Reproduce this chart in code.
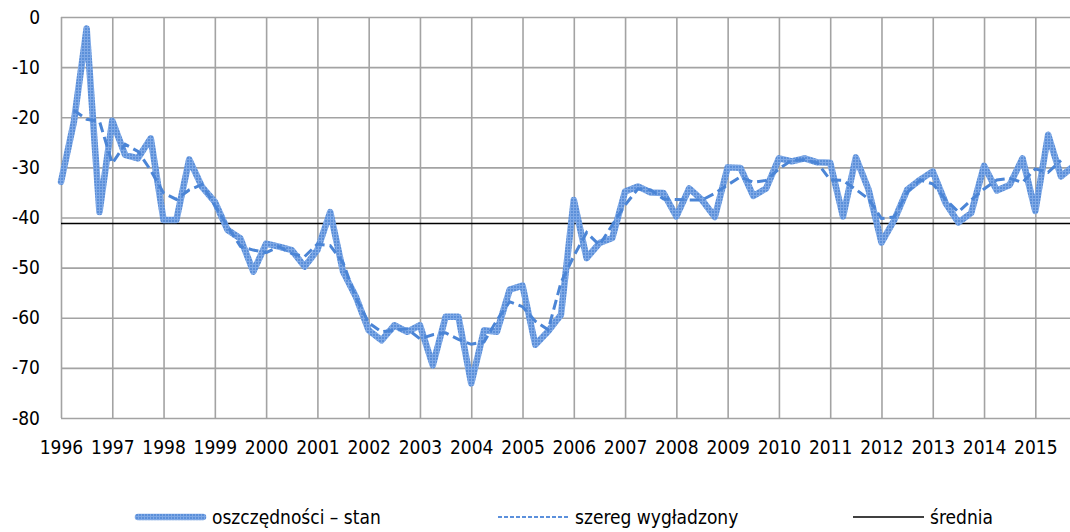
<!DOCTYPE html>
<html>
<head>
<meta charset="utf-8">
<script src="https://cdn.jsdelivr.net/npm/d3@7"></script>
<style>
  html, body { margin: 0; padding: 0; background: #fff; }
  #svg-container { width: 1070px; height: 532px; }
  svg { display: block; }
  .tick text, .legend-texts {
    font-family: "DejaVu Sans Condensed", "DejaVu Sans", sans-serif;
    font-size: 19px;
    fill: #000;
  }
  .grid .tick line { stroke: #a3a3a3; stroke-width: 1.6; }
  .grid .domain { display: none; }
</style>
</head>
<body>
<div id="svg-container"></div>
<script>
// data: quarterly, 1996Q1 .. 2015Q4
const years = d3.range(1996, 2016);
const quarters = years.flatMap((y) => [1, 2, 3, 4].map((q) => `${y}Q${q}`));

const savings = [
  -32.9, -21.0, -2.3, -38.9,
  -20.7, -27.5, -28.2, -24.2,
  -40.5, -40.5, -28.4, -33.9,
  -36.9, -42.5, -44.2, -50.8,
  -45.2, -45.8, -46.5, -49.8,
  -46.5, -38.9, -50.8, -55.8,
  -62.5, -64.5, -61.5, -62.8,
  -61.5, -69.5, -59.8, -59.8,
  -73.1, -62.5, -62.8, -54.4,
  -53.6, -65.4, -62.7, -59.4,
  -36.5, -48.1, -45.1, -44.1,
  -34.8, -33.8, -35.0, -35.1,
  -39.8, -34.2, -36.5, -39.9,
  -30.0, -30.1, -35.7, -34.2,
  -28.2, -28.8, -28.2, -29.0,
  -29.1, -39.8, -28.0, -34.5,
  -45.0, -40.5, -34.5, -32.5,
  -30.8, -37.1, -41.0, -39.1,
  -29.7, -34.6, -33.5, -28.2,
  -38.7, -23.5, -31.8, -29.7,
];

const smoothed = [
  null, -18.6, -20.4, -20.8,
  -29.2, -25.4, -26.8, -30.6,
  -35.1, -36.4, -34.5, -33.4,
  -37.6, -41.8, -45.8, -46.5,
  -47.0, -45.8, -47.2, -47.8,
  -45.3, -45.6, -49.0, -56.0,
  -61.0, -62.8, -62.5, -62.2,
  -64.2, -63.4, -63.0, -64.3,
  -65.3, -64.8, -60.5, -56.8,
  -57.8, -60.7, -62.4, -53.0,
  -47.7, -43.0, -45.5, -41.5,
  -37.5, -34.3, -34.5, -36.3,
  -36.4, -36.5, -36.5, -35.2,
  -33.5, -31.9, -33.0, -32.6,
  -30.3, -28.6, -28.5, -29.1,
  -32.5, -32.6, -34.4, -36.3,
  -40.2, -39.9, -35.0, -32.5,
  -33.3, -36.4, -38.9, -36.5,
  -34.3, -32.5, -32.2, -33.0,
  -30.3, -31.0, -28.6, null,
];

const meanValue = -41.2;

const yTicks = [0, -10, -20, -30, -40, -50, -60, -70, -80];
const legendLabels = ["oszczędności – stan", "szereg wygładzony", "średnia"];

////////////////////////////////////////////////////////////////////
////////////////////////////  Init  ///////////////////////////////
const width = 1070;
const height = 532;
const margin = { top: 17, right: 0, bottom: 114, left: 61 };

const svg = d3
  .select("#svg-container")
  .append("svg")
  .attr("width", width)
  .attr("height", height);

// texture of the thick line
const defs = svg.append("defs");
const pat = defs
  .append("pattern")
  .attr("id", "hatch")
  .attr("patternUnits", "userSpaceOnUse")
  .attr("width", 3)
  .attr("height", 3);
pat.append("rect").attr("width", 3).attr("height", 3).attr("fill", "#5b8fd9");
pat
  .append("path")
  .attr("d", "M0,0.5H3M0.5,0V3")
  .attr("stroke", "#7fa9e6")
  .attr("stroke-width", 1);

// scale
const xScale = d3
  .scaleLinear()
  .domain([0, quarters.length - 1])
  .range([margin.left, margin.left + 79 * 12.82]);
const yScale = d3
  .scaleLinear()
  .domain([-80, 0])
  .range([height - margin.bottom, margin.top]);

// axis (ticks used as gridlines)
const yearIdx = years.map((d, i) => i * 4);
const xAxis = d3
  .axisBottom(xScale)
  .tickValues(yearIdx)
  .tickFormat((d) => years[d / 4])
  .tickSize(-(height - margin.bottom - margin.top))
  .tickPadding(23);

const yAxis = d3
  .axisLeft(yScale)
  .tickValues(yTicks)
  .tickFormat((d) => String(d)) // plain hyphen, like the original
  .tickSize(-(width - margin.left))
  .tickPadding(21);

svg
  .append("g")
  .attr("class", "grid y-axis")
  .attr("transform", `translate(${margin.left},0)`)
  .call(yAxis);

svg
  .append("g")
  .attr("class", "grid x-axis")
  .attr("transform", `translate(0,${height - margin.bottom})`)
  .call(xAxis);

// mean line
svg
  .append("line")
  .attr("x1", margin.left)
  .attr("x2", width)
  .attr("y1", yScale(meanValue))
  .attr("y2", yScale(meanValue))
  .attr("stroke", "#000")
  .attr("stroke-width", 1.5);

// series
const line = d3
  .line()
  .defined((d) => d != null)
  .x((d, i) => xScale(i))
  .y((d) => yScale(d));

svg
  .append("path")
  .datum(savings)
  .attr("d", line)
  .attr("fill", "none")
  .attr("stroke", "url(#hatch)")
  .attr("stroke-width", 6.5)
  .attr("stroke-linejoin", "round")
  .attr("stroke-linecap", "round");

svg
  .append("path")
  .datum(smoothed)
  .attr("d", line)
  .attr("fill", "none")
  .attr("stroke", "#4b85d6")
  .attr("stroke-width", 3)
  .attr("stroke-dasharray", "10,5");

////////////////////////////////////////////////////////////////////
////////////////////////////  Legend  //////////////////////////////
const legendY = 517;
const legendX = [135, 498, 853];
const swatchW = 71;

const legend = svg.append("g").attr("class", "legend");

legend
  .append("line")
  .attr("x1", legendX[0] + 3)
  .attr("x2", legendX[0] + swatchW - 3)
  .attr("y1", legendY)
  .attr("y2", legendY)
  .attr("stroke", "url(#hatch)")
  .attr("stroke-width", 6.5)
  .attr("stroke-linecap", "round");

legend
  .append("line")
  .attr("x1", legendX[1])
  .attr("x2", legendX[1] + swatchW)
  .attr("y1", legendY)
  .attr("y2", legendY)
  .attr("stroke", "#5b90dc")
  .attr("stroke-width", 2)
  .attr("stroke-dasharray", "4,2");

legend
  .append("line")
  .attr("x1", legendX[2])
  .attr("x2", legendX[2] + swatchW)
  .attr("y1", legendY)
  .attr("y2", legendY)
  .attr("stroke", "#000")
  .attr("stroke-width", 1.5);

legend
  .selectAll("legend-texts")
  .data(legendLabels)
  .enter()
  .append("text")
  .attr("class", "legend-texts")
  .attr("x", (d, i) => legendX[i] + swatchW + 6)
  .attr("y", legendY)
  .attr("dy", "0.35em")
  .text((d) => d);
</script>
</body>
</html>
